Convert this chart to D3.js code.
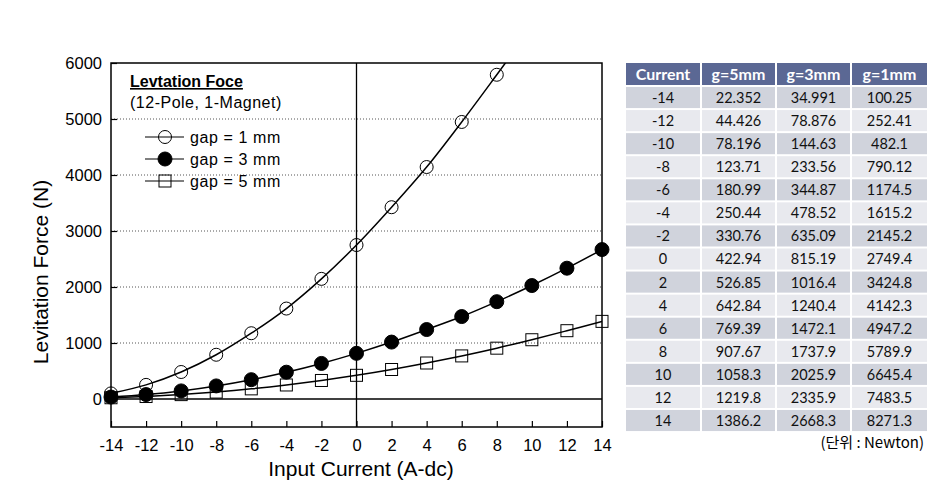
<!DOCTYPE html>
<html>
<head>
<meta charset="utf-8">
<script src="https://cdn.jsdelivr.net/npm/d3@7"></script>
<style>
body { margin: 0; background: #fff; }
svg { display: block; }
</style>
</head>
<body>
<div id="graph"></div>
<script>
(function(){
"use strict";

// data (from the table in the picture)
var current = [-14, -12, -10, -8, -6, -4, -2, 0, 2, 4, 6, 8, 10, 12, 14];
var gap5 = [22.352, 44.426, 78.196, 123.71, 180.99, 250.44, 330.76, 422.94, 526.85, 642.84, 769.39, 907.67, 1058.3, 1219.8, 1386.2];
var gap3 = [34.991, 78.876, 144.63, 233.56, 344.87, 478.52, 635.09, 815.19, 1016.4, 1240.4, 1472.1, 1737.9, 2025.9, 2335.9, 2668.3];
var gap1 = [100.25, 252.41, 482.1, 790.12, 1174.5, 1615.2, 2145.2, 2749.4, 3424.8, 4142.3, 4947.2, 5789.9, 6645.4, 7483.5, 8271.3];
var gap5Text = ["22.352","44.426","78.196","123.71","180.99","250.44","330.76","422.94","526.85","642.84","769.39","907.67","1058.3","1219.8","1386.2"];
var gap3Text = ["34.991","78.876","144.63","233.56","344.87","478.52","635.09","815.19","1016.4","1240.4","1472.1","1737.9","2025.9","2335.9","2668.3"];
var gap1Text = ["100.25","252.41","482.1","790.12","1174.5","1615.2","2145.2","2749.4","3424.8","4142.3","4947.2","5789.9","6645.4","7483.5","8271.3"];
var xTicks = [-14, -12, -10, -8, -6, -4, -2, 0, 2, 4, 6, 8, 10, 12, 14];
var yTicks = [0, 1000, 2000, 3000, 4000, 5000, 6000];
var tableHead = ["Current", "g=5mm", "g=3mm", "g=1mm"];

var W = 951, H = 492;
var plot = {left: 111, top: 63, right: 602, bottom: 427};
var sans = 'Liberation Sans, Arial, sans-serif';

var svg = d3.select('#graph')
	.append('svg')
		.attr('width', W)
		.attr('height', H)
		.style('font-family', sans);

var x = d3.scaleLinear().domain([-14, 14]).range([plot.left, plot.right]);
var y = d3.scaleLinear().domain([-500, 6000]).range([plot.bottom, plot.top]);

svg.append('defs').append('clipPath')
	.attr('id', 'clip')
	.append('rect')
		.attr('x', plot.left)
		.attr('y', plot.top)
		.attr('width', plot.right - plot.left)
		.attr('height', plot.bottom - plot.top);

// dotted grid
svg.append('g')
	.selectAll('line')
	.data(yTicks.filter(function(d){ return d > 0 && d < 6000; }))
	.enter()
	.append('line')
		.attr('x1', plot.left)
		.attr('x2', plot.right)
		.attr('y1', function(d){ return y(d); })
		.attr('y2', function(d){ return y(d); })
		.attr('stroke', '#555')
		.attr('stroke-width', 1)
		.attr('stroke-dasharray', '1,2');

// zero lines
svg.append('line')
	.attr('x1', plot.left).attr('x2', plot.right)
	.attr('y1', y(0)).attr('y2', y(0))
	.attr('stroke', '#000').attr('stroke-width', 1.3);
svg.append('line')
	.attr('x1', x(0)).attr('x2', x(0))
	.attr('y1', plot.top).attr('y2', plot.bottom)
	.attr('stroke', '#000').attr('stroke-width', 1.3);

// axes
var plain = function(d){ return String(d); };
var xAxis = d3.axisBottom(x).tickValues(xTicks).tickSize(-6).tickPadding(12).tickFormat(plain);
var yAxis = d3.axisLeft(y).tickValues(yTicks).tickSize(-6).tickPadding(9).tickFormat(plain);

var gx = svg.append('g')
	.attr('transform', 'translate(0,' + plot.bottom + ')')
	.call(xAxis);
var gy = svg.append('g')
	.attr('transform', 'translate(' + plot.left + ',0)')
	.call(yAxis);
[gx, gy].forEach(function(g){
	g.select('.domain').remove();
	g.selectAll('line').attr('stroke', '#000').attr('stroke-width', 1.2);
	g.selectAll('text')
		.attr('fill', '#000')
		.style('font-size', '16.5px')
		.style('font-family', sans);
});

// frame
svg.append('rect')
	.attr('x', plot.left)
	.attr('y', plot.top)
	.attr('width', plot.right - plot.left)
	.attr('height', plot.bottom - plot.top)
	.attr('fill', 'none')
	.attr('stroke', '#000')
	.attr('stroke-width', 1.5);

// axis titles
svg.append('text')
	.attr('x', 361)
	.attr('y', 476)
	.attr('text-anchor', 'middle')
	.style('font-size', '21px')
	.text('Input Current (A-dc)');
svg.append('text')
	.attr('transform', 'translate(48,' + 272 + ') rotate(-90)')
	.attr('text-anchor', 'middle')
	.style('font-size', '21px')
	.text('Levitation Force (N)');

// series
var series = [
	{name: 'gap = 1 mm', values: gap1, symbol: 'circle', fill: '#fff'},
	{name: 'gap = 3 mm', values: gap3, symbol: 'circle', fill: '#000'},
	{name: 'gap = 5 mm', values: gap5, symbol: 'square', fill: '#fff'}
];

var line = d3.line()
	.x(function(d){ return x(d[0]); })
	.y(function(d){ return y(d[1]); })
	.curve(d3.curveCatmullRom);

function drawSymbol(g, s, cx, cy){
	if (s.symbol === 'square') {
		g.append('rect')
			.attr('x', cx - 6).attr('y', cy - 6)
			.attr('width', 12).attr('height', 12)
			.attr('fill', 'none')
			.attr('stroke', '#000')
			.attr('stroke-width', 1);
	} else {
		g.append('circle')
			.attr('cx', cx).attr('cy', cy)
			.attr('r', s.fill === '#000' ? 7 : 6.5)
			.attr('fill', s.fill === '#000' ? '#000' : 'none')
			.attr('stroke', '#000')
			.attr('stroke-width', 1);
	}
}

var plotG = svg.append('g').attr('clip-path', 'url(#clip)');

series.forEach(function(s){
	var pts = current.map(function(c, i){ return [c, s.values[i]]; });
	plotG.append('path')
		.datum(pts)
		.attr('d', line)
		.attr('fill', 'none')
		.attr('stroke', '#000')
		.attr('stroke-width', 1.5);
	var sg = svg.append('g');
	pts.forEach(function(p){
		if (p[1] <= 6000) drawSymbol(sg, s, x(p[0]), y(p[1]));
	});
});

// legend
svg.append('text')
	.attr('x', 130).attr('y', 87)
	.style('font-size', '16px')
	.style('font-weight', 'bold')
	.style('text-decoration', 'underline')
	.text('Levtation Foce');
svg.append('text')
	.attr('x', 130).attr('y', 108)
	.style('font-size', '16px')
	.style('letter-spacing', '0.5px')
	.text('(12-Pole, 1-Magnet)');

var legY = [137, 159, 181];
series.forEach(function(s, i){
	var lg = svg.append('g');
	lg.append('line')
		.attr('x1', 145).attr('x2', 184)
		.attr('y1', legY[i]).attr('y2', legY[i])
		.attr('stroke', '#000').attr('stroke-width', 1.2);
	drawSymbol(lg, s, 165, legY[i]);
	lg.append('text')
		.attr('x', 190).attr('y', legY[i] + 5.5)
		.style('font-size', '16px')
		.style('letter-spacing', '0.6px')
		.text(s.name);
});

// table
var tbl = {top: 63, headH: 22, rowH: 23.07};
var colX = [626, 702, 777, 852];
var colW = [74, 73, 73, 75];
var tFont = 'Lato, Open Sans, sans-serif';

var tg = svg.append('g').style('font-family', tFont);
tableHead.forEach(function(h, j){
	tg.append('rect')
		.attr('x', colX[j]).attr('y', tbl.top)
		.attr('width', colW[j]).attr('height', tbl.headH)
		.attr('fill', '#5b6894');
	tg.append('text')
		.attr('x', colX[j] + colW[j] / 2)
		.attr('y', tbl.top + 16.5)
		.attr('text-anchor', 'middle')
		.attr('fill', '#fff')
		.style('font-size', '16px')
		.style('font-weight', 'bold')
		.text(h);
});

var rows = current.map(function(c, i){
	return [String(c), gap5Text[i], gap3Text[i], gap1Text[i]];
});
rows.forEach(function(r, i){
	var ry = tbl.top + tbl.headH + 2 + i * tbl.rowH;
	r.forEach(function(v, j){
		tg.append('rect')
			.attr('x', colX[j]).attr('y', ry)
			.attr('width', colW[j]).attr('height', tbl.rowH - 2)
			.attr('fill', i % 2 === 0 ? '#d0d3dc' : '#e8e9ee');
		tg.append('text')
			.attr('x', colX[j] + colW[j] / 2)
			.attr('y', ry + 16)
			.attr('text-anchor', 'middle')
			.attr('fill', '#111')
			.style('font-size', '14.5px')
			.text(v);
	});
});

svg.append('text')
	.attr('x', 924).attr('y', 448)
	.attr('text-anchor', 'end')
	.style('font-family', 'Noto Sans CJK KR, Lato, sans-serif')
	.style('font-size', '15px')
	.text('(단위 : Newton)');

})();
</script>
</body>
</html>
